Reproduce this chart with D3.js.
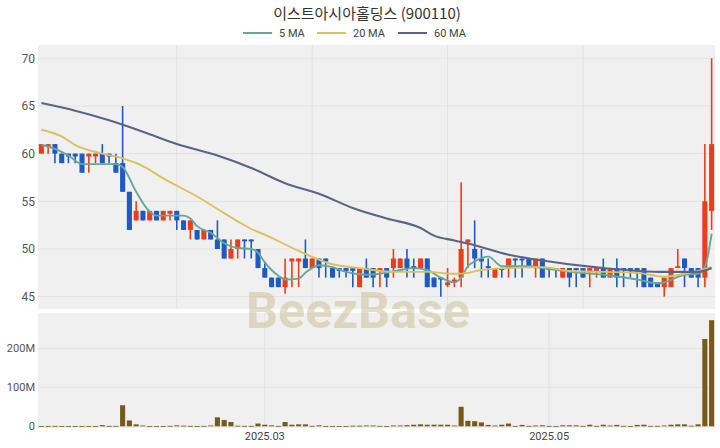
<!DOCTYPE html>
<html><head><meta charset="utf-8">
<script src="https://cdn.jsdelivr.net/npm/d3@7/dist/d3.min.js"></script>
<style>body{margin:0;background:#fff}</style>
</head><body><svg id="c" width="720" height="448"></svg>
<script>
const dates = [
"2025-01-09","2025-01-10","2025-01-13","2025-01-14","2025-01-15","2025-01-16","2025-01-17","2025-01-20","2025-01-21","2025-01-22",
"2025-01-23","2025-01-24","2025-01-31","2025-02-03","2025-02-04","2025-02-05","2025-02-06","2025-02-07","2025-02-10","2025-02-11",
"2025-02-12","2025-02-13","2025-02-14","2025-02-17","2025-02-18","2025-02-19","2025-02-20","2025-02-21","2025-02-24","2025-02-25",
"2025-02-26","2025-02-27","2025-02-28","2025-03-04","2025-03-05","2025-03-06","2025-03-07","2025-03-10","2025-03-11","2025-03-12",
"2025-03-13","2025-03-14","2025-03-17","2025-03-18","2025-03-19","2025-03-20","2025-03-21","2025-03-24","2025-03-25","2025-03-26",
"2025-03-27","2025-03-28","2025-03-31","2025-04-01","2025-04-02","2025-04-03","2025-04-04","2025-04-07","2025-04-08","2025-04-09",
"2025-04-10","2025-04-11","2025-04-14","2025-04-15","2025-04-16","2025-04-17","2025-04-18","2025-04-21","2025-04-22","2025-04-23",
"2025-04-24","2025-04-25","2025-04-28","2025-04-29","2025-04-30","2025-05-02","2025-05-07","2025-05-08","2025-05-09","2025-05-12",
"2025-05-13","2025-05-14","2025-05-15","2025-05-16","2025-05-19","2025-05-20","2025-05-21","2025-05-22","2025-05-23","2025-05-26",
"2025-05-27","2025-05-28","2025-05-29","2025-05-30","2025-06-02","2025-06-04","2025-06-05","2025-06-09","2025-06-10","2025-06-11"];

const open = [60,60.7,61,60,60,60,60,59.7,59.7,60, 60,59,59,56,53,54,53,54,53,53.7,
54,53,52,52,51,52,51,51,49,50, 51,51,50,48,47,47,46,48.7,48.7,49,
48,49,49,48,48,48,48,46,48,48, 47.7,48,48,48,49,48.2,48,49,47,47,
46.2,46.5,47,50.7,50,49,48.2,47,48,48, 49,49,49,48,49,48,48,47,48,48,
48,47.7,47.7,48,47,48,48,48,48,48, 47,46.5,46,46,48,49,48,48,47,54];
const high = [61,61,61,60,60,60,60,60,60,61, 60,60,65,56,55,54,54,54,54,54,
54,53,53,52,52,52,53,51,51,51, 51,51,50,48.5,47,47,49,49,49,51,
49,49,49,48,48,48,48,48,49,48, 48,48,50,49,50,49,49,49,47,47,
48,47,57,51,53,50,49,48,48,49, 49,49,49,49,49,48,48,48,48,48,
48,48,48,49,48,49,48,48,48,48, 47,46.5,47,48,50,49,48,48,61,70];
const low = [60,60,59,59,59,59,58,58,59,59, 59,58,56,52,53,53,53,53,53,53,
52,52,51,51,51,51,50,49,49,49, 49,49,48,47,46,46,45.3,46,46,48,
48,47,47,47,47,47,46,46,47,46, 46,46,47,48,47,47,48,46,46,45,
46,46,46,48,48,47,47,47,47,47, 47,47,48,47,47,47,47,47,46,46,
47,46,47,47,47,46,46,47,46,46, 46,46,45,46,48,46,47,46,46,52];
const close = [61,61,60,59,59.7,59.7,58,60,60,59, 59.7,58,56,52,54,53,54,53,54,54,
53,52,53,51,52,51,50,49,50,51, 50.8,50.8,48,47,46,46,47,49,49,48,
49,48,48.7,47,47.7,47.7,47.7,48,47,47, 48,47,49,49,48,48,49,46,46,46.8,
46.5,46.8,50,51,49,48.7,48,48,47.8,49, 48.8,48.8,48,49,47,47.8,47.8,48,47,47.8,
47,48,48,47,48,47,47.8,47.8,47.8,46, 46,46,47,48,48.2,48,47,47,55,61];
// volume in millions of shares
const volume = [0.5,0.8,1,0.5,0.5,0.5,0.8,0.5,0.5,3, 1,1,54,15,5,2,0.5,0.5,0.5,1,
2.5,1.5,1,0.5,1,2,23,16,11,1.5, 1,1,7,4,2.5,1,11,4,5,5,
1,2.5,0.5,0.5,0.5,0.5,1.5,1.5,2,2, 1,0.5,2,2,3,4,5,4,4,4,
4,2,50,14,13,10,3.5,2,4,7, 1,3.5,1,2,2.5,1,0.5,2.5,2.5,2.5,
1,4,1,4,2,3.5,1,0.5,3.5,4, 1,1,2,4,5,5,1.5,5,224,272];

// moving averages (index into dates, value)
const ma5Idx = [0,2,4,6,11,12,14,16,17,21,22,23,25,27,29,31,32,33,34,35,36,38,39,41,43,45,48,50,53,55,57,59,61,62,63,64,66,68,70,72,74,78,83,88,91,92,95,97,98,99];
const ma5Val = [60.9,60.5,59.8,58.9,58.9,58.6,56,53.9,53.5,53.5,53.2,52.4,51.7,50.6,50.1,50.0,49.6,48.6,47.8,47.2,46.8,46.9,47.5,48.3,48.1,47.6,47.3,47.4,47.8,48.0,47.8,47.0,46.5,47.0,48.2,48.7,49.2,48.2,48.2,48.2,48.0,47.6,47.3,46.8,46.4,46.5,47.3,47.4,48.1,51.6];
const ma20Idx = [0,3,5,9,12,15,18,23,26,29,31,33,38,43,47,52,57,61,63,65,69,74,78,88,92,95,99];
const ma20Val = [62.5,61.8,60.9,60.0,59.5,58.7,57.4,55.5,54.2,52.9,52.1,51.5,49.8,48.4,48.0,47.6,47.6,47.4,47.5,47.8,48.0,48.1,47.7,47.5,47.1,47.4,48.1];
const ma60Idx = [0,5,10,15,20,26,31,36,41,46,51,56,58,61,64,69,73,83,92,97,99];
const ma60Val = [65.3,64.5,63.5,62.3,61.0,59.8,58.5,56.9,55.8,54.3,53.2,52.2,51.4,50.9,50.4,49.4,48.9,48.0,47.6,47.6,48.0];

const priceTicks = [45,50,55,60,65,70];
const volTicks = [0,100,200];
const volTickLabels = ["0","100M","200M"];
const xTickDates = ["2025-03-04","2025-05-02"];
const xTickLabels = ["2025.03","2025.05"];
const priceGridDates = ["2025-02-12","2025-03-13","2025-04-10","2025-05-13"];
const seriesNames = ["5 MA","20 MA","60 MA"];
const title = "이스트아시아홀딩스 (900110)";

const UP = "#ec3d1a", DOWN = "#1f5ac4", VOL = "#765a1c";
const MA_COL = ["#64a898","#d8c25c","#5c6484"];
const GRID = "#e1e1e1", BG = "#f0f0f0";

const svg = d3.select("#c");
const L = 38, R = 715;
const pTop = 45, pBot = 309, vTop = 313, vBot = 428;

const x = d3.scaleBand().domain(dates).range([L, R]).paddingInner(0.25).paddingOuter(0.125);
const bw = x.bandwidth();
const cx = d => x(d) + bw / 2;
const y = d3.scaleLinear().domain([43.71, 71.39]).range([pBot, pTop]);
const yv = d3.scaleLinear().domain([-4.4, 290.5]).range([vBot, vTop]);

// panel backgrounds
svg.append("rect").attr("x", L).attr("y", pTop).attr("width", R - L).attr("height", pBot - pTop).attr("fill", BG);
svg.append("rect").attr("x", L).attr("y", vTop).attr("width", R - L).attr("height", vBot - vTop).attr("fill", BG);

// price gridlines
const gP = svg.append("g");
gP.selectAll("line.h").data(priceTicks).join("line")
  .attr("x1", L).attr("x2", R).attr("y1", d => y(d)).attr("y2", d => y(d))
  .attr("stroke", GRID).attr("stroke-width", 1);
gP.selectAll("line.v").data(priceGridDates).join("line").attr("class","v")
  .attr("x1", d => cx(d)).attr("x2", d => cx(d)).attr("y1", pTop).attr("y2", pBot)
  .attr("stroke", GRID).attr("stroke-width", 1);

// volume gridlines
const gV = svg.append("g");
gV.selectAll("line.h").data(volTicks).join("line")
  .attr("x1", L).attr("x2", R).attr("y1", d => yv(d)).attr("y2", d => yv(d))
  .attr("stroke", GRID).attr("stroke-width", 1);
gV.selectAll("line.v").data(xTickDates).join("line").attr("class","v")
  .attr("x1", d => cx(d)).attr("x2", d => cx(d)).attr("y1", vTop).attr("y2", vBot)
  .attr("stroke", GRID).attr("stroke-width", 1);

// y axis labels
const axisFont = "Roboto, 'Liberation Sans', sans-serif";
const yAxis = d3.axisLeft(y).tickValues(priceTicks).tickSize(0).tickPadding(0);
const ga = svg.append("g").attr("transform", `translate(${L - 3},0)`).call(yAxis);
ga.select(".domain").remove();
ga.selectAll("text").attr("font-size", 12).attr("font-family", axisFont).attr("fill", "#555");

const vAxis = d3.axisLeft(yv).tickValues(volTicks).tickFormat((d, i) => volTickLabels[i]).tickSize(0).tickPadding(0);
const gva = svg.append("g").attr("transform", `translate(${L - 3},0)`).call(vAxis);
gva.select(".domain").remove();
gva.selectAll("text").attr("font-size", 11).attr("font-family", axisFont).attr("fill", "#555");

// x axis labels
const xAxis = d3.axisBottom(x).tickValues(xTickDates).tickFormat((d, i) => xTickLabels[i]).tickSize(0).tickPadding(4);
const gx = svg.append("g").attr("transform", `translate(0,${vBot})`).call(xAxis);
gx.select(".domain").remove();
gx.selectAll("text").attr("font-size", 11).attr("font-family", axisFont).attr("fill", "#444");

// watermark
svg.append("text").attr("x", 358).attr("y", 328).attr("text-anchor", "middle")
  .attr("font-family", "Roboto, 'Liberation Sans', sans-serif").attr("font-weight", "bold")
  .attr("font-size", 50).attr("textLength", 224).attr("lengthAdjust", "spacingAndGlyphs")
  .attr("fill", "#c9bd92").attr("opacity", 0.5).text("BeezBase");

// candles
const idx = d3.range(dates.length);
const gc = svg.append("g");
gc.selectAll("line.w").data(idx).join("line")
  .attr("x1", i => cx(dates[i])).attr("x2", i => cx(dates[i]))
  .attr("y1", i => y(high[i])).attr("y2", i => y(low[i]))
  .attr("stroke", i => close[i] >= open[i] ? UP : DOWN).attr("stroke-width", 1.6);
gc.selectAll("rect.b").data(idx).join("rect")
  .attr("x", i => x(dates[i])).attr("width", bw)
  .attr("y", i => y(Math.max(open[i], close[i])))
  .attr("height", i => Math.max(1.5, Math.abs(y(open[i]) - y(close[i]))))
  .attr("fill", i => close[i] >= open[i] ? UP : DOWN);

// moving averages
const maSets = [[ma5Idx, ma5Val], [ma20Idx, ma20Val], [ma60Idx, ma60Val]];
const lineGen = d3.line().x(d => cx(dates[d[0]])).y(d => y(d[1])).curve(d3.curveMonotoneX);
maSets.forEach((s, k) => {
  const pts = s[0].map((ix, j) => [ix, s[1][j]]);
  svg.append("path").attr("d", lineGen(pts)).attr("fill", "none")
    .attr("stroke", MA_COL[k]).attr("stroke-width", k === 2 ? 2.1 : 1.9)
    .attr("stroke-linejoin", "round");
});

// volume bars
svg.append("g").selectAll("rect").data(idx).join("rect")
  .attr("x", i => x(dates[i])).attr("width", bw)
  .attr("y", i => yv(volume[i]))
  .attr("height", i => Math.max(0.8, yv(0) - yv(volume[i])))
  .attr("fill", VOL);

// title
svg.append("text").attr("x", 367).attr("y", 19).attr("text-anchor", "middle")
  .attr("font-family", "'Noto Sans CJK KR', 'Noto Sans', sans-serif").attr("font-size", 15)
  .attr("fill", "#333").text(title);

// legend
const legX = [243, 317, 398];
const lg = svg.append("g");
seriesNames.forEach((n, k) => {
  lg.append("line").attr("x1", legX[k]).attr("x2", legX[k] + 29).attr("y1", 33).attr("y2", 33)
    .attr("stroke", MA_COL[k]).attr("stroke-width", 2);
  lg.append("text").attr("x", legX[k] + 36).attr("y", 37).attr("font-size", 11)
    .attr("font-family", axisFont).attr("fill", "#444").text(n);
});
</script>
</body></html>
